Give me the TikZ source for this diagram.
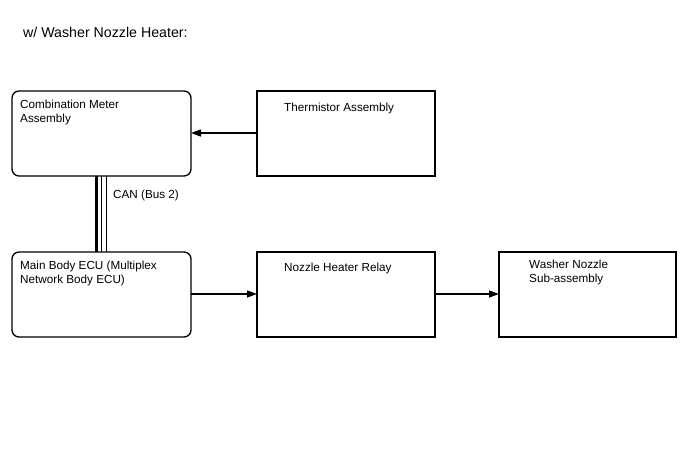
\documentclass[tikz,border=0pt]{standalone}
\usepackage{fontspec}
\setmainfont{Liberation Sans}
\usepackage{tikz}
\usetikzlibrary{arrows.meta,positioning,calc}

\begin{document}
\begin{tikzpicture}[
  x=1pt, y=-1pt,
  node distance=76pt and 66pt,
  font=\fontsize{11.7}{13.8}\selectfont,
  ecubox/.style={draw=black, line width=1.3pt, rounded corners=7pt, outer sep=0pt,
                 minimum width=179pt, minimum height=85pt, inner sep=0pt},
  partbox/.style={draw=black, line width=1.3pt, outer sep=0pt,
                  minimum width=178pt, minimum height=85pt, inner sep=0pt},
  txt/.style={anchor=north west, align=left, inner sep=0pt},
  arr/.style={-{Triangle[length=10pt, width=7pt]}, line width=1.3pt, black}
]
\useasboundingbox (0,0) rectangle (688,463);

% Titel
\node[txt, font=\fontsize{14.2}{17}\selectfont] (title) at (23,27) {w/ Washer Nozzle Heater:};

% Reihe 1
\node[ecubox, anchor=north west] (meter) at (12,91) {};
\node[partbox, right=66pt of meter] (therm) {};

% Reihe 2
\node[ecubox, below=76pt of meter] (body) {};
\node[partbox, right=66pt of body] (relay) {};
\node[partbox, right=64pt of relay, minimum width=177pt] (washer) {};

% Texte
\node[txt] (meterT) at ([shift={(8,9)}]meter.north west) {Combination Meter\\Assembly};
\node[txt] (thermT) at ([shift={(27,12)}]therm.north west) {Thermistor Assembly};
\node[txt] (bodyT) at ([shift={(8,9)}]body.north west) {Main Body ECU (Multiplex\\Network Body ECU)};
\node[txt] (relayT) at ([shift={(27,11)}]relay.north west) {Nozzle Heater Relay};
\node[txt] (washerT) at ([shift={(30,8)}]washer.north west) {Washer Nozzle\\Sub-assembly};
\node[txt] (canT) at ([shift={(101,14)}]meter.south west) {CAN (Bus 2)};

% Verbindungen
\draw[line width=2.6pt] ([xshift=84.5]meter.south west) -- ([xshift=84.5]body.north west);
\draw[line width=1.6pt] ([xshift=89.5]meter.south west) -- ([xshift=89.5]body.north west);
\draw[line width=1.8pt] ([xshift=94.5]meter.south west) -- ([xshift=94.5]body.north west);

\draw[arr] ([yshift=-42]therm.north west) -- ([yshift=-42]therm.north west -| meter.east);
\draw[arr] ([yshift=-42]body.north east) -- ([yshift=-42]body.north east -| relay.west);
\draw[arr] ([yshift=-42]relay.north east) -- ([yshift=-42]relay.north east -| washer.west);

\end{tikzpicture}
\end{document}
